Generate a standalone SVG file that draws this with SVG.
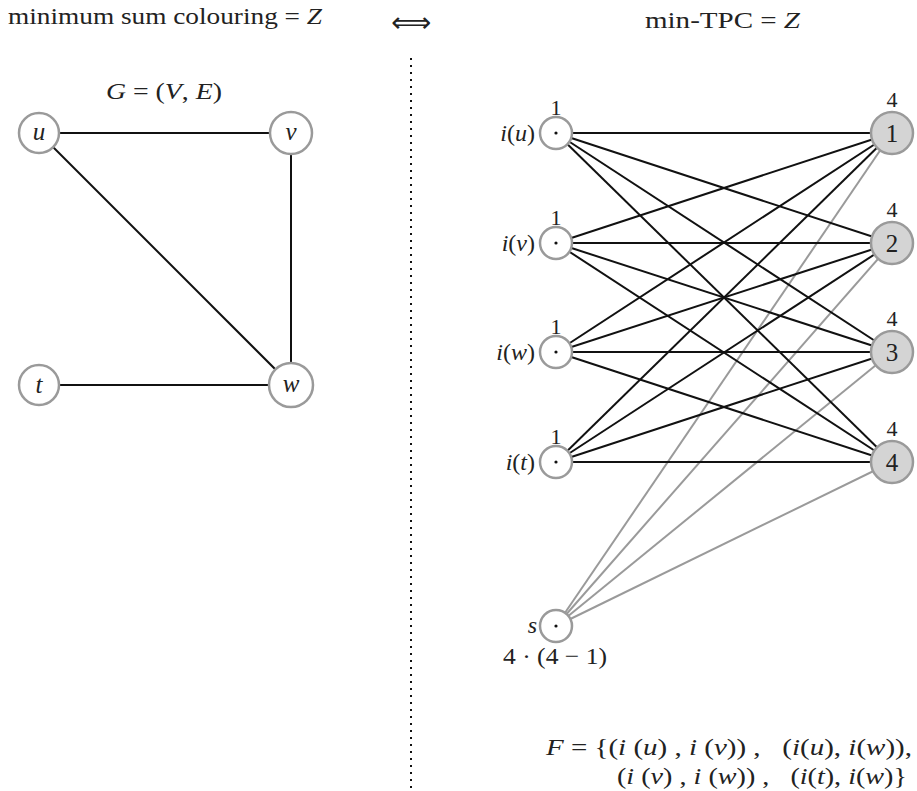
<svg xmlns="http://www.w3.org/2000/svg" width="917" height="791" viewBox="0 0 917 791">
<style>
text{font-family:"Liberation Serif","DejaVu Serif",serif;fill:#222;}
.it{font-style:italic;}
.node{fill:#fff;stroke:#9a9a9a;stroke-width:2.5;}
.col{fill:#d4d4d4;stroke:#9a9a9a;stroke-width:2.5;}
.e{stroke:#111;stroke-width:2;fill:none;}
.g{stroke:#9a9a9a;stroke-width:2;fill:none;}
.lbl{font-size:25px;text-anchor:middle;}
.sm{font-size:22px;text-anchor:middle;}
.il{font-size:24px;text-anchor:end;}
</style>
<rect width="917" height="791" fill="#fff"/>
<g id="titles">
<text x="8" y="24" font-size="23" textLength="314" lengthAdjust="spacingAndGlyphs">minimum sum colouring = <tspan class="it">Z</tspan></text>
<text x="411" y="32" font-size="28" text-anchor="middle" style="font-family:'DejaVu Sans',sans-serif">⟺</text>
<text x="645" y="28" font-size="23" textLength="155" lengthAdjust="spacingAndGlyphs">min-TPC = <tspan class="it">Z</tspan></text>
<text x="106" y="99" font-size="24" textLength="116" lengthAdjust="spacingAndGlyphs"><tspan class="it">G</tspan> = (<tspan class="it">V</tspan>, <tspan class="it">E</tspan>)</text>
</g>
<g id="divider">
<line x1="411" y1="58" x2="411" y2="791" stroke="#111" stroke-width="2" stroke-dasharray="2 5"/>
</g>
<g id="connectors">
<line class="e" x1="39" y1="133" x2="291" y2="133"/>
<line class="e" x1="39" y1="133" x2="291" y2="385"/>
<line class="e" x1="291" y1="133" x2="291" y2="385"/>
<line class="e" x1="39" y1="385" x2="291" y2="385"/>
<line class="g" x1="556" y1="626" x2="892" y2="133"/>
<line class="g" x1="556" y1="626" x2="892" y2="243"/>
<line class="g" x1="556" y1="626" x2="892" y2="352"/>
<line class="g" x1="556" y1="626" x2="892" y2="462"/>
<line class="e" x1="556" y1="133" x2="892" y2="133"/>
<line class="e" x1="556" y1="133" x2="892" y2="243"/>
<line class="e" x1="556" y1="133" x2="892" y2="352"/>
<line class="e" x1="556" y1="133" x2="892" y2="462"/>
<line class="e" x1="556" y1="243" x2="892" y2="133"/>
<line class="e" x1="556" y1="243" x2="892" y2="243"/>
<line class="e" x1="556" y1="243" x2="892" y2="352"/>
<line class="e" x1="556" y1="243" x2="892" y2="462"/>
<line class="e" x1="556" y1="352" x2="892" y2="133"/>
<line class="e" x1="556" y1="352" x2="892" y2="243"/>
<line class="e" x1="556" y1="352" x2="892" y2="352"/>
<line class="e" x1="556" y1="352" x2="892" y2="462"/>
<line class="e" x1="556" y1="462" x2="892" y2="133"/>
<line class="e" x1="556" y1="462" x2="892" y2="243"/>
<line class="e" x1="556" y1="462" x2="892" y2="352"/>
<line class="e" x1="556" y1="462" x2="892" y2="462"/>
</g>
<g id="node-u"><circle class="node" cx="39" cy="133" r="20"/><text class="lbl it" x="39" y="140">u</text></g>
<g id="node-v"><circle class="node" cx="291" cy="133" r="21"/><text class="lbl it" x="291" y="140">v</text></g>
<g id="node-t"><circle class="node" cx="39" cy="385" r="20"/><text class="lbl it" x="39" y="393">t</text></g>
<g id="node-w"><circle class="node" cx="291" cy="385" r="22"/><text class="lbl it" x="291" y="392">w</text></g>

<g id="node-iu"><circle class="node" cx="556" cy="133" r="16"/><circle cx="556" cy="133" r="1.6" fill="#111"/><text class="sm" x="556" y="115">1</text><text class="il" x="535" y="141"><tspan class="it">i</tspan>(<tspan class="it">u</tspan>)</text></g>
<g id="node-iv"><circle class="node" cx="556" cy="243" r="16"/><circle cx="556" cy="243" r="1.6" fill="#111"/><text class="sm" x="556" y="225">1</text><text class="il" x="535" y="251"><tspan class="it">i</tspan>(<tspan class="it">v</tspan>)</text></g>
<g id="node-iw"><circle class="node" cx="556" cy="352" r="16"/><circle cx="556" cy="352" r="1.6" fill="#111"/><text class="sm" x="556" y="334">1</text><text class="il" x="535" y="360"><tspan class="it">i</tspan>(<tspan class="it">w</tspan>)</text></g>
<g id="node-it"><circle class="node" cx="556" cy="462" r="16"/><circle cx="556" cy="462" r="1.6" fill="#111"/><text class="sm" x="556" y="444">1</text><text class="il" x="535" y="470"><tspan class="it">i</tspan>(<tspan class="it">t</tspan>)</text></g>
<g id="node-s"><circle class="node" cx="556" cy="626" r="16"/><circle cx="556" cy="626" r="1.6" fill="#111"/><text class="il it" x="537" y="633">s</text><text x="555" y="664" font-size="24" text-anchor="middle" textLength="104" lengthAdjust="spacingAndGlyphs">4 · (4 − 1)</text></g>

<g id="node-c1"><circle class="col" cx="892" cy="133" r="21"/><text class="lbl" x="892" y="142">1</text><text class="sm" x="892" y="107">4</text></g>
<g id="node-c2"><circle class="col" cx="892" cy="243" r="21"/><text class="lbl" x="892" y="252">2</text><text class="sm" x="892" y="217">4</text></g>
<g id="node-c3"><circle class="col" cx="892" cy="352" r="21"/><text class="lbl" x="892" y="361">3</text><text class="sm" x="892" y="326">4</text></g>
<g id="node-c4"><circle class="col" cx="892" cy="462" r="21"/><text class="lbl" x="892" y="471">4</text><text class="sm" x="892" y="436">4</text></g>

<g id="formula">
<text x="546" y="755" font-size="23" textLength="366" lengthAdjust="spacingAndGlyphs" xml:space="preserve"><tspan class="it">F</tspan> = {(<tspan class="it">i</tspan> (<tspan class="it">u</tspan>) , <tspan class="it">i</tspan> (<tspan class="it">v</tspan>)) ,   (<tspan class="it">i</tspan>(<tspan class="it">u</tspan>), <tspan class="it">i</tspan>(<tspan class="it">w</tspan>)),</text>
<text x="617" y="784" font-size="23" textLength="290" lengthAdjust="spacingAndGlyphs" xml:space="preserve">(<tspan class="it">i</tspan> (<tspan class="it">v</tspan>) , <tspan class="it">i</tspan> (<tspan class="it">w</tspan>)) ,   (<tspan class="it">i</tspan>(<tspan class="it">t</tspan>), <tspan class="it">i</tspan>(<tspan class="it">w</tspan>)}</text>
</g>
</svg>
